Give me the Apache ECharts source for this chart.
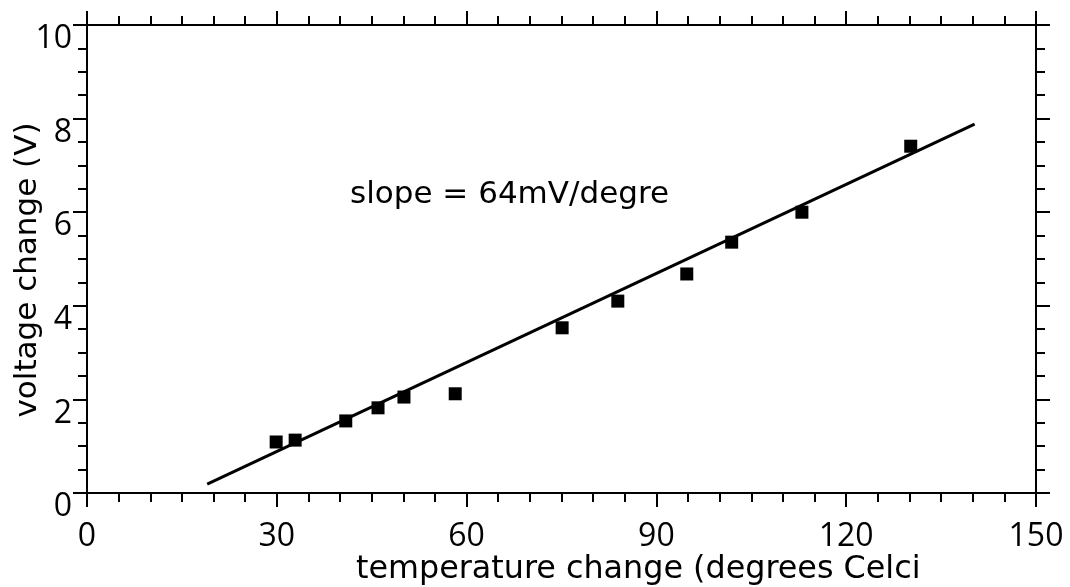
<!DOCTYPE html>
<html>
<head>
<meta charset="utf-8">
<script src="https://cdn.jsdelivr.net/npm/echarts@6/dist/echarts.min.js"></script>
<style>
html,body{margin:0;padding:0;background:#fff;}
#chart{width:1070px;height:587px;}
</style>
</head>
<body>
<div id="chart"></div>
<script>
// Data
var tempChange = [29.9, 32.9, 40.9, 46.0, 50.1, 58.2, 75.1, 83.9, 94.8, 101.9, 113.0, 130.2];
var voltChange = [1.09, 1.13, 1.54, 1.82, 2.05, 2.12, 3.53, 4.10, 4.68, 5.36, 6.00, 7.41];
var fitLineX = [19.0, 140.3];
var fitLineY = [0.19, 7.88];
// Texts as visible (clipped) in the reference
var xTitle = 'temperature change (degrees Celci';
var yTitle = 'voltage change (V)';
var slopeText = 'slope = 64mV/degre';

var TICK_FONT = 'Open Sans';
var TITLE_FONT = 'DejaVu Sans';
var points = tempChange.map(function (t, i) { return [t, voltChange[i]]; });
var fit = fitLineX.map(function (x, i) { return [x, fitLineY[i]]; });

var chart = echarts.init(document.getElementById('chart'), null, {renderer: 'canvas'});

function axisCommon() {
  return {
    axisLine: {show: true, onZero: false, lineStyle: {color: '#000', width: 2}},
    axisTick: {show: true, inside: false, length: 14, lineStyle: {color: '#000', width: 2}},
    minorTick: {show: true, length: 9, lineStyle: {color: '#000', width: 2}},
    splitLine: {show: false},
    minorSplitLine: {show: false}
  };
}

var xBase = axisCommon();
var yBase = axisCommon();

var option = {
  animation: false,
  backgroundColor: '#fff',
  grid: {left: 87, right: 34, top: 25, bottom: 94, containLabel: false},
  xAxis: [
    Object.assign({}, xBase, {
      type: 'value', position: 'bottom', min: 0, max: 150, interval: 30,
      minorTick: Object.assign({}, xBase.minorTick, {splitNumber: 6}),
      axisLabel: {show: true, color: '#000', fontFamily: TICK_FONT, fontSize: 32, margin: 28}
    }),
    Object.assign({}, xBase, {
      type: 'value', position: 'top', min: 0, max: 150, interval: 30,
      minorTick: Object.assign({}, xBase.minorTick, {splitNumber: 6}),
      axisLabel: {show: false}
    })
  ],
  yAxis: [
    Object.assign({}, yBase, {
      type: 'value', position: 'left', min: 0, max: 10, interval: 2,
      minorTick: Object.assign({}, yBase.minorTick, {splitNumber: 4}),
      axisLabel: {show: true, color: '#000', fontFamily: TICK_FONT, fontSize: 32, margin: 15, verticalAlign: 'top', padding: [-2, 0, 0, 0]}
    }),
    Object.assign({}, yBase, {
      type: 'value', position: 'right', min: 0, max: 10, interval: 2,
      minorTick: Object.assign({}, yBase.minorTick, {splitNumber: 4}),
      axisLabel: {show: false}
    })
  ],
  series: [
    {
      type: 'line',
      data: fit,
      xAxisIndex: 0, yAxisIndex: 0,
      symbol: 'none',
      lineStyle: {color: '#000', width: 3},
      silent: true
    },
    {
      type: 'scatter',
      data: points,
      xAxisIndex: 0, yAxisIndex: 0,
      symbol: 'rect',
      symbolSize: 13,
      itemStyle: {color: '#000', opacity: 1}
    }
  ],
  graphic: [
    {
      type: 'text', x: 350, y: 195,
      style: {text: slopeText, fill: '#000', font: '31px "' + TITLE_FONT + '"', textAlign: 'left', textVerticalAlign: 'middle'}
    },
    {
      type: 'text', x: 356, y: 570,
      style: {text: xTitle, fill: '#000', font: '31.8px "' + TITLE_FONT + '"', textAlign: 'left', textVerticalAlign: 'middle'}
    },
    {
      type: 'text', x: 28, y: 270, rotation: Math.PI / 2,
      style: {text: yTitle, fill: '#000', font: '31px "' + TITLE_FONT + '"', textAlign: 'center', textVerticalAlign: 'middle'}
    }
  ]
};

chart.setOption(option);
</script>
</body>
</html>
